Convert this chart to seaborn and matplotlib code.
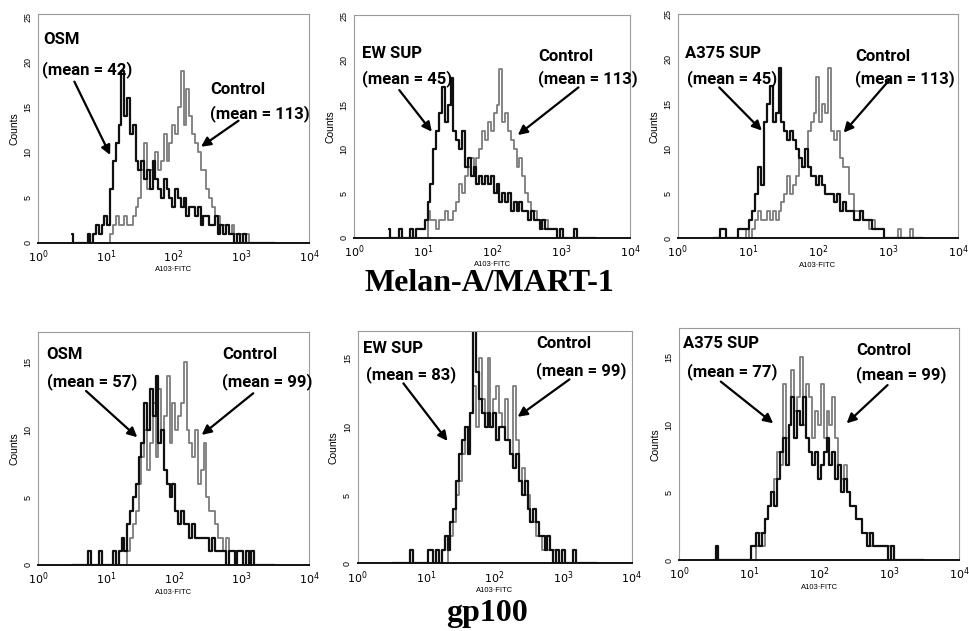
import numpy as np
import matplotlib
matplotlib.use("Agg")
import matplotlib.pyplot as plt
import seaborn as sns

# histogram counts, 24 channels per decade, first channel at 10^0.5
osm_mel = [1,0,0,0,0,0,1,0,1,2,1,2,
           3,2,6,9,11,13,19,14,16,12,13,9,
           8,9,7,8,6,9,7,6,5,7,6,5,
           4,6,5,4,5,3,4,4,3,4,2,3,
           3,2,2,3,1,2,1,2,1,1,0,1,
           0,1,0,0,0,0,0,0,0,0,0,0, 0]
ctl_mel1 = [0,0,0,0,0,0,0,0,0,0,0,0,
            0,0,1,2,3,2,2,3,2,2,3,4,
            5,8,11,6,8,7,10,8,9,12,9,11,
            13,12,15,19,13,17,14,12,11,10,8,8,
            6,5,4,3,3,2,2,2,1,2,1,1,
            1,0,1,0,0,0,0,0,0,0,0,0, 0]
ew_mel = [1,0,0,0,1,0,0,0,1,0,1,1,
          1,2,4,6,10,12,14,17,13,15,18,12,
          11,10,12,8,9,7,8,6,7,6,7,6,
          7,5,6,4,5,4,5,3,4,3,4,3,
          3,2,3,2,2,1,2,1,1,1,1,0,
          1,0,0,0,0,1,0,0,0,0,0,0, 0]
ctl_mel2 = [0,0,0,0,0,0,0,0,0,0,0,0,
            0,0,3,2,2,1,2,2,3,2,2,3,
            4,6,5,7,8,9,7,9,10,12,11,13,
            12,14,15,19,13,14,12,11,10,8,9,7,
            5,4,3,3,2,2,1,2,1,1,1,0,
            1,0,0,0,0,0,0,0,0,0,0,0, 0]
a375_mel = [0,0,0,1,1,0,0,0,0,1,1,1,
            1,2,3,5,8,6,13,15,17,13,14,19,
            13,12,11,12,11,10,9,8,10,8,7,7,
            6,7,6,5,5,5,4,5,3,4,3,3,
            3,2,2,3,2,2,2,1,1,1,1,0,
            0,0,0,0,0,0,0,0,0,0,0,0, 0]
ctl_mel3 = [0,0,0,0,0,0,0,0,0,0,0,0,
            1,0,1,2,3,2,2,3,2,3,2,3,
            4,5,7,5,6,7,9,8,10,12,13,14,
            18,13,15,14,19,12,11,12,9,8,8,5,
            5,3,3,3,2,2,1,2,1,1,1,0,
            0,0,0,0,1,0,0,0,1,0,0,0, 0]

osm_gp = [0,0,0,0,0,0,1,0,0,0,1,0,
          0,0,0,1,0,1,2,1,3,4,5,6,
          8,9,12,10,13,11,14,9,10,7,6,5,
          6,4,3,4,3,3,2,3,2,2,2,2,
          2,1,2,1,1,1,1,0,1,1,0,1,
          1,0,1,0,1,0,0,0,0,0,0,0, 0]
ctl_gp1 = [0,0,0,0,0,0,0,0,0,0,0,0,
           0,0,0,0,0,0,0,0,1,2,3,4,
           6,8,10,7,9,12,8,13,10,11,14,9,
           12,10,11,12,15,10,9,8,10,6,7,9,
           5,4,4,3,2,2,1,2,1,1,1,1,
           1,0,1,1,0,0,0,0,0,0,0,0, 0]
ew_gp = [0,0,0,0,0,0,0,1,0,0,0,0,
         0,1,1,0,1,0,1,2,1,3,4,6,
         8,9,10,8,11,18,14,12,11,10,11,10,
         11,9,10,10,9,9,8,7,8,6,5,6,
         4,3,4,3,2,2,1,2,1,0,1,0,
         1,0,0,0,1,0,0,0,0,0,0,0, 0]
ctl_gp2 = [0,0,0,0,0,0,0,0,0,0,0,0,
           0,0,0,0,0,0,0,0,1,2,3,5,
           6,8,10,9,11,13,10,15,12,11,15,10,
           12,13,11,10,12,9,8,13,9,6,7,5,
           5,3,3,2,2,1,2,1,1,1,0,0,
           0,0,0,0,0,0,0,0,0,0,0,0, 0]
a375_gp = [0,1,0,0,0,0,0,0,0,0,0,0,
           0,1,1,2,1,2,3,4,5,4,6,8,
           9,7,10,12,9,11,10,12,9,8,7,8,
           6,7,8,9,7,8,6,7,5,6,5,4,
           4,3,3,2,2,1,2,1,1,1,1,1,
           0,1,0,0,0,0,0,0,0,0,0,0, 0]
ctl_gp3 = [0,0,0,0,0,0,0,0,0,0,0,0,
           0,0,0,1,2,1,3,4,5,6,8,7,
           13,9,10,14,11,12,15,10,13,12,9,11,
           10,13,9,11,10,12,9,7,6,7,5,4,
           4,3,3,2,2,2,1,1,1,1,1,1,
           1,1,0,0,0,0,0,0,0,0,0,0, 0]

treat_names = ["OSM", "EW SUP", "A375 SUP", "OSM", "EW SUP", "A375 SUP"]
treat_means = [42, 45, 45, 57, 83, 77]
ctl_means = [113, 113, 113, 99, 99, 99]
treat_data = [osm_mel, ew_mel, a375_mel, osm_gp, ew_gp, a375_gp]
ctl_data = [ctl_mel1, ctl_mel2, ctl_mel3, ctl_gp1, ctl_gp2, ctl_gp3]
row_titles = ["Melan-A/MART-1", "gp100"]

sns.set_style("white")
plt.rcParams["font.family"] = ["Liberation Sans", "DejaVu Sans"]
plt.rcParams["text.color"] = "black"
plt.rcParams["xtick.color"] = "black"
plt.rcParams["ytick.color"] = "black"
plt.rcParams["axes.labelcolor"] = "black"

fig = plt.figure(figsize=(9.7, 6.31), dpi=100)

boxes = [[0.0392, 0.6154, 0.2797, 0.3620],
         [0.3653, 0.6233, 0.2842, 0.3529],
         [0.6987, 0.6223, 0.2890, 0.3550],
         [0.0395, 0.1046, 0.2794, 0.3688],
         [0.3687, 0.1072, 0.2825, 0.3681],
         [0.7000, 0.1125, 0.2890, 0.3672]]
ytops = [25.3, 25.1, 25.0, 17.2, 17.0, 17.1]
yticks = [[0, 5, 10, 15, 20, 25]] * 3 + [[0, 5, 10, 15]] * 3

# label / arrow placement in axes fraction: name, mean, ctl, ctl mean, arrow1, arrow2
lbl_pos = [
    [(0.021, 0.888), (0.015, 0.756), (0.634, 0.669), (0.634, 0.566),
     ((0.134, 0.705), (0.266, 0.384)), ((0.739, 0.534), (0.601, 0.420))],
    [(0.027, 0.828), (0.027, 0.716), (0.667, 0.813), (0.667, 0.716),
     ((0.163, 0.663), (0.281, 0.476)), ((0.813, 0.675), (0.593, 0.461))],
    [(0.026, 0.826), (0.032, 0.714), (0.632, 0.811), (0.632, 0.714),
     ((0.148, 0.674), (0.300, 0.481)), ((0.755, 0.707), (0.592, 0.472))],
    [(0.031, 0.903), (0.031, 0.788), (0.677, 0.903), (0.677, 0.788),
     ((0.176, 0.748), (0.365, 0.549)), ((0.793, 0.738), (0.603, 0.559))],
    [(0.021, 0.925), (0.030, 0.811), (0.651, 0.947), (0.651, 0.832),
     ((0.167, 0.775), (0.328, 0.527)), ((0.773, 0.792), (0.584, 0.631))],
    [(0.015, 0.935), (0.030, 0.813), (0.631, 0.906), (0.631, 0.799),
     ((0.149, 0.770), (0.336, 0.590)), ((0.744, 0.755), (0.598, 0.590))],
]

for i in range(6):
    ax = fig.add_axes(boxes[i])
    x = 10 ** (0.5 + np.arange(len(ctl_data[i])) / 24)
    sns.lineplot(x=x, y=ctl_data[i], ax=ax, color="#7c7c7c", lw=1.3,
                 drawstyle="steps-mid")
    x = 10 ** (0.5 + np.arange(len(treat_data[i])) / 24)
    sns.lineplot(x=x, y=treat_data[i], ax=ax, color="#101010", lw=1.6,
                 drawstyle="steps-mid")
    ax.set_xscale("log")
    ax.set_xlim(1, 1e4)
    ax.set_ylim(0, ytops[i])
    ax.set_xticks([1, 10, 100, 1000, 10000])
    ax.set_xticklabels([r"$10^{0}$", r"$10^{1}$", r"$10^{2}$", r"$10^{3}$", r"$10^{4}$"])
    ax.minorticks_off()
    ax.set_yticks(yticks[i])
    for t in ax.get_yticklabels():
        t.set_rotation(90)
        t.set_va("center")
    ax.tick_params(axis="x", labelsize=8, length=2, width=0.5, pad=2)
    ax.tick_params(axis="y", labelsize=6.5, length=2, width=0.5, pad=2)
    ax.set_ylabel("Counts", fontsize=7.5, labelpad=3)
    ax.set_xlabel("A103·FITC", fontsize=5.5, labelpad=1)
    for s in ["left", "top", "right"]:
        ax.spines[s].set_color("#9a9a9a")
        ax.spines[s].set_linewidth(0.8)
    ax.spines["bottom"].set_color("#111111")
    ax.spines["bottom"].set_linewidth(1.4)

    p = lbl_pos[i]
    kw = dict(transform=ax.transAxes, family=["Roboto", "DejaVu Sans"],
              fontweight="bold", fontsize=12, va="center", ha="left", color="black")
    ax.text(*p[0], treat_names[i], **kw)
    ax.text(*p[1], f"(mean = {treat_means[i]})", **kw)
    ax.text(*p[2], "Control", **kw)
    ax.text(*p[3], f"(mean = {ctl_means[i]})", **kw)
    for tail, tip in p[4:]:
        ax.annotate("", xy=tip, xytext=tail, xycoords="axes fraction",
                    textcoords="axes fraction",
                    arrowprops=dict(arrowstyle="-|>", color="black", lw=1.6,
                                    mutation_scale=14, shrinkA=0, shrinkB=0))

fig.text(0.504, 0.551, row_titles[0], ha="center", va="center",
         family=["Liberation Serif", "DejaVu Serif"], fontweight="bold", fontsize=23)
fig.text(0.502, 0.028, row_titles[1], ha="center", va="center",
         family=["Liberation Serif", "DejaVu Serif"], fontweight="bold", fontsize=23)

fig.savefig("out.png", dpi=100)
